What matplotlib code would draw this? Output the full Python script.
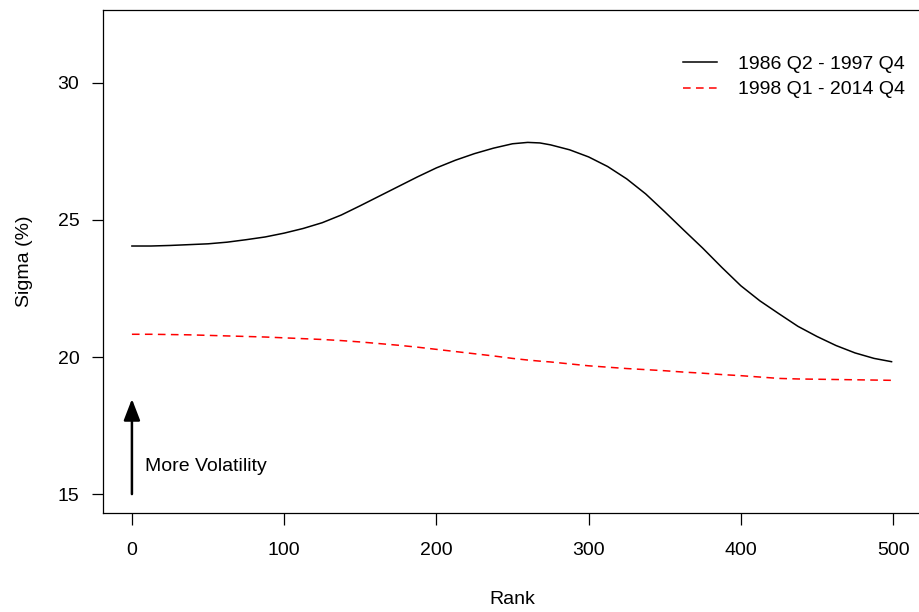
import matplotlib.pyplot as plt

plt.rcParams['font.family'] = ['Liberation Sans', 'DejaVu Sans']

# values
rank = [0, 12.5, 25, 37.5, 50, 62.5, 75, 87.5, 100, 112.5, 125, 137.5, 150, 162.5, 175, 187.5, 200, 212.5,
        225, 237.5, 250, 260, 268, 275, 287.5, 300, 312.5, 325, 337.5, 350, 362.5, 375, 387.5, 400, 412.5,
        425, 437.5, 450, 462.5, 475, 487.5, 499]
sigma_early = [24.05, 24.05, 24.07, 24.10, 24.13, 24.19, 24.28, 24.38, 24.52, 24.69, 24.90, 25.18, 25.52, 25.87,
               26.22, 26.57, 26.90, 27.18, 27.42, 27.62, 27.78, 27.83, 27.81, 27.74, 27.56, 27.30, 26.95, 26.50,
               25.95, 25.30, 24.63, 23.97, 23.27, 22.60, 22.05, 21.58, 21.12, 20.75, 20.42, 20.15, 19.95, 19.83]
sigma_late = [20.83, 20.83, 20.82, 20.81, 20.79, 20.77, 20.75, 20.73, 20.70, 20.67, 20.64, 20.60, 20.55, 20.49,
              20.43, 20.36, 20.28, 20.20, 20.12, 20.04, 19.95, 19.89, 19.85, 19.82, 19.75, 19.68, 19.63, 19.58,
              19.54, 19.50, 19.45, 19.41, 19.36, 19.32, 19.27, 19.22, 19.20, 19.19, 19.18, 19.17, 19.16, 19.15]

labels = ["1986 Q2 - 1997 Q4", "1998 Q1 - 2014 Q4"]

fig = plt.figure(figsize=(9.19, 6.12), dpi=100)
ax = fig.add_axes([103 / 919, 1 - 513 / 612, 819 / 919, 503 / 612])

ax.plot(rank, sigma_early, color='black', lw=1.1, label=labels[0])
ax.plot(rank, sigma_late, color='red', lw=1.1, dashes=(5, 3.5), label=labels[1])

ax.set_xlim(-19, 519)
ax.set_ylim(14.31, 32.66)
ax.set_xticks([0, 100, 200, 300, 400, 500])
ax.set_yticks([15, 20, 25, 30])
ax.tick_params(axis='x', length=8.6, width=0.9, pad=12, labelsize=14)
ax.tick_params(axis='y', length=8, width=0.9, pad=9, labelsize=14)
for s in ax.spines.values():
    s.set_linewidth(0.9)

ax.set_xlabel("Rank", fontsize=14, labelpad=23)
ax.set_ylabel("Sigma (%)", fontsize=14, labelpad=18)

# arrow + note
ax.annotate("", xy=(0, 18.47), xytext=(0, 15),
            arrowprops=dict(arrowstyle='-|>,head_length=1.3,head_width=0.5', color='black', lw=1.8,
                            shrinkA=0, shrinkB=0, mutation_scale=10))
ax.text(8.5, 16.0, "More Volatility", fontsize=14, va='center', ha='left')

ax.legend(loc='upper left', bbox_to_anchor=(683 / 919, 1 - 55 / 612), bbox_transform=fig.transFigure,
          frameon=False, fontsize=14, handlelength=1.75, handletextpad=1.1, labelspacing=0.42,
          borderpad=0, borderaxespad=0)

fig.savefig("out.png", dpi=100)
